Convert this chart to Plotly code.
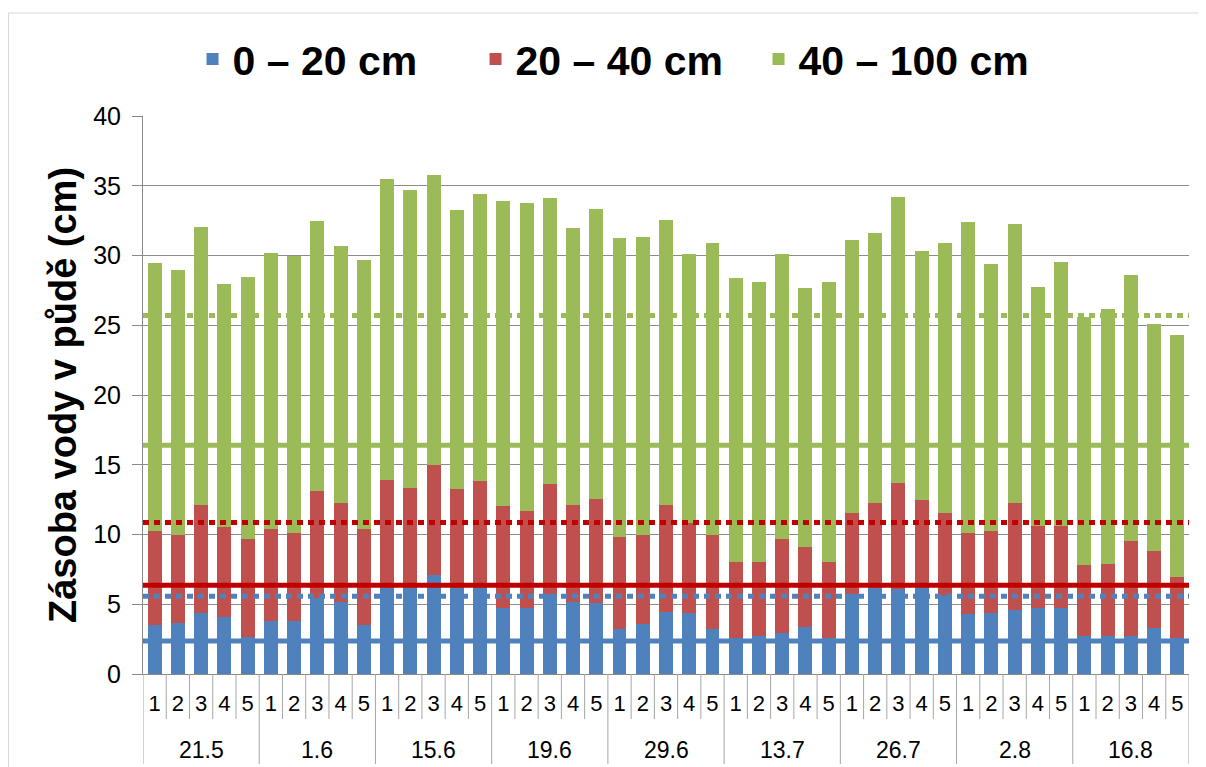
import plotly.graph_objects as go

# sampling dates and plot numbers
dates = ["21.5", "1.6", "15.6", "19.6", "29.6", "13.7", "26.7", "2.8", "16.8"]
plots = ["1", "2", "3", "4", "5"]

# soil water storage per layer (cm)
layer_0_20 = [
    3.54, 3.64, 4.36, 4.12, 2.64,
    3.81, 3.81, 5.45, 5.16, 3.54,
    6.18, 6.18, 7.13, 6.18, 6.18,
    4.70, 4.70, 5.72, 5.16, 5.07,
    3.22, 3.61, 4.44, 4.36, 3.22,
    2.59, 2.74, 2.91, 3.37, 2.59,
    5.70, 6.18, 6.11, 6.18, 5.58,
    4.27, 4.36, 4.61, 4.70, 4.70,
    2.74, 2.74, 2.74, 3.27, 2.59,
]
layer_20_40 = [
    6.69, 6.35, 7.74, 6.43, 7.03,
    6.59, 6.27, 7.64, 7.11, 6.86,
    7.71, 7.18, 7.85, 7.08, 7.64,
    7.32, 7.01, 7.93, 6.94, 7.44,
    6.62, 6.38, 7.66, 6.43, 6.77,
    5.43, 5.28, 6.76, 5.72, 5.43,
    5.86, 6.06, 7.61, 6.26, 5.98,
    5.81, 5.87, 7.63, 5.92, 5.92,
    5.04, 5.14, 6.76, 5.58, 4.37,
]
layer_40_100 = [
    19.22, 18.98, 19.97, 17.43, 18.81,
    19.78, 19.88, 19.39, 18.42, 19.30,
    21.60, 21.31, 20.78, 20.02, 20.60,
    21.92, 22.06, 20.46, 19.88, 20.85,
    21.38, 21.33, 20.43, 19.32, 20.92,
    20.37, 20.05, 20.44, 18.55, 20.05,
    19.52, 19.35, 20.49, 17.91, 19.37,
    22.31, 19.13, 20.00, 17.11, 18.91,
    17.84, 18.30, 19.13, 16.22, 17.36,
]

# reference levels (solid = lower limit, dotted = upper limit)
ref_solid = [2.37, 6.37, 16.4]
ref_dotted = [5.58, 10.86, 25.7]

names = ["0 – 20 cm", "20 – 40 cm", "40 – 100 cm"]
colors = ["#4F81BD", "#C0504D", "#9BBB59"]
line_colors = ["#4F81BD", "#C00000", "#9BBB59"]

n_sub = len(plots)
n = len(dates) * n_sub
pos = list(range(n))
sub_labels = [p for _ in dates for p in plots]

# the page body adds an 8px offset, margins below account for it
ML, MR, MT, MB = 135, 25, 108, 101
PLOT_W = 1206 - ML - MR
PLOT_H = 767 - MT - MB

fig = go.Figure()
for name, vals, col in zip(names, [layer_0_20, layer_20_40, layer_40_100], colors):
    fig.add_trace(go.Bar(x=pos, y=vals, name=name, marker=dict(color=col, line=dict(width=0))))

for y, col in zip(ref_solid, line_colors):
    fig.add_hline(y=y, line=dict(color=col, width=5))
for y, col in zip(ref_dotted, line_colors):
    fig.add_hline(y=y, line=dict(color=col, width=5, dash="6px,5px"))

# category separators: short ones between plots, long ones between dates
for i in range(n + 1):
    depth = 90 if i % n_sub == 0 else 45
    fig.add_shape(type="line", xref="x", yref="paper", x0=i - 0.5, x1=i - 0.5,
                  y0=0, y1=-depth / PLOT_H, line=dict(color="#A6A6A6", width=1))

for g, d in enumerate(dates):
    fig.add_annotation(x=g * n_sub + (n_sub - 1) / 2, xref="x", y=-76 / PLOT_H, yref="paper",
                       text=d, showarrow=False, font=dict(size=23), yanchor="middle")

# outer chart border
fig.add_shape(type="rect", xref="paper", yref="paper",
              x0=(0.5 - ML) / PLOT_W, x1=1.2, y0=-0.3, y1=(PLOT_H + 103) / PLOT_H,
              line=dict(color="#D9D9D9", width=1), layer="below")

fig.update_layout(
    width=1206, height=767,
    barmode="stack", bargap=0.4,
    plot_bgcolor="white", paper_bgcolor="white",
    margin=dict(l=ML, r=MR, t=MT, b=MB),
    font=dict(family="Liberation Sans", color="black"),
    legend=dict(orientation="h", x=0.505, xref="container", xanchor="center",
                y=0.933, yref="container", yanchor="middle",
                font=dict(size=41, family="Liberation Sans", weight="bold"),
                itemwidth=30, entrywidth=238, traceorder="normal"),
    xaxis=dict(range=[-0.5, n - 0.5], tickmode="array", tickvals=pos, ticktext=sub_labels,
               showgrid=False, zeroline=False, showline=True, linecolor="#898989",
               ticks="", ticklabelstandoff=10, tickfont=dict(size=22), automargin=False),
    yaxis=dict(range=[0, 40], dtick=5, showgrid=True, gridcolor="#8C8C8C", gridwidth=1,
               showline=True, linecolor="#898989", ticks="outside", ticklen=10,
               tickcolor="#898989", tickfont=dict(size=25), zeroline=False,
               ticklabelstandoff=6, automargin=False,
               title=dict(text="Zásoba vody v půdě (cm)", standoff=4,
                          font=dict(size=38, family="Liberation Sans", weight="bold"))),
)

fig.write_html("out.html")
